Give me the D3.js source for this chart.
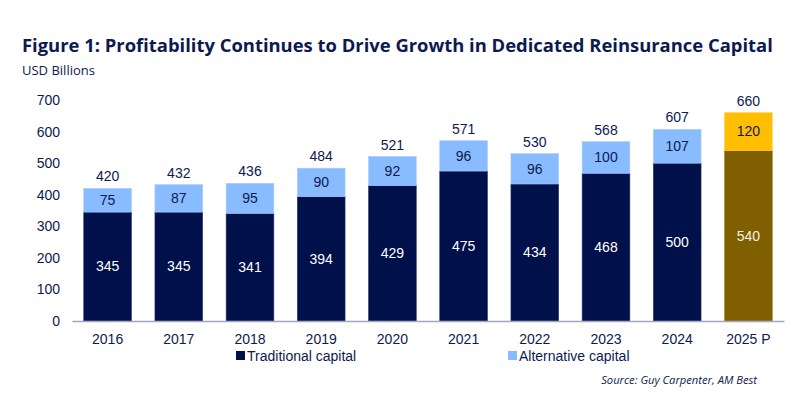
<!DOCTYPE html>
<html><head><meta charset="utf-8">
<script src="https://cdn.jsdelivr.net/npm/d3@7"></script>
<style>body{margin:0;background:#fff}svg{display:block}</style>
</head><body>
<svg id="c" width="800" height="412"></svg>
<script>
const categories = ["2016","2017","2018","2019","2020","2021","2022","2023","2024","2025 P"];
const traditional = [345,345,341,394,429,475,434,468,500,540];
const alternative = [75,87,95,90,92,96,96,100,107,120];
const totals = [420,432,436,484,521,571,530,568,607,660];
const yTicks = [0,100,200,300,400,500,600,700];

const svg = d3.select("#c");
const navy = "#0d1a4f";
const x = d3.scaleBand().domain(categories).range([72,784]).paddingInner(0.33).paddingOuter(0.165);
const y = d3.scaleLinear().domain([0,700]).range([321,100]);

const title = svg.append("text").attr("x",22).attr("y",52).attr("fill",navy)
  .attr("font-family","'Open Sans', 'Noto Sans', sans-serif").attr("font-weight",700).attr("font-size",19)
  .text("Figure 1: Profitability Continues to Drive Growth in Dedicated Reinsurance Capital");
const tw = title.node().getComputedTextLength();
title.attr("font-size", 19*751/tw);
svg.append("text").attr("x",22).attr("y",75).attr("fill",navy)
  .attr("font-family","'Open Sans', 'Noto Sans', sans-serif").attr("font-size",13)
  .text("USD Billions");

const font = "'Liberation Sans', Arial, sans-serif";
const yAxis = svg.append("g").attr("transform","translate(72,0)")
  .call(d3.axisLeft(y).tickValues(yTicks).tickSize(0).tickPadding(12));
yAxis.select(".domain").remove();
yAxis.selectAll("text").attr("font-family",font).attr("font-size",14).attr("fill",navy);

const isProj = i => i === categories.length-1;
const g = svg.append("g");
categories.forEach((c,i)=>{
  const x0 = x(c), w = x.bandwidth();
  const t = traditional[i], a = alternative[i];
  g.append("rect").attr("x",x0).attr("width",w).attr("y",y(t)).attr("height",y(0)-y(t))
    .attr("fill",isProj(i)?"#7f5f00":"#00104a").attr("stroke",isProj(i)?"#9a7c28":"#2a3468").attr("stroke-width",0.6);
  g.append("rect").attr("x",x0).attr("width",w).attr("y",y(t+a)).attr("height",y(t)-y(t+a))
    .attr("fill",isProj(i)?"#ffbf00":"#88bbff").attr("stroke",isProj(i)?"#ffd04a":"#a6ccff").attr("stroke-width",0.6);
  const cx = x0 + w/2;
  g.append("text").attr("x",cx).attr("y",(y(0)+y(t))/2).attr("dy","0.35em").attr("text-anchor","middle")
    .attr("font-family",font).attr("font-size",14).attr("fill",isProj(i)?"#f6efe0":"#ffffff").text(t);
  g.append("text").attr("x",cx).attr("y",(y(t)+y(t+a))/2).attr("dy","0.35em").attr("text-anchor","middle")
    .attr("font-family",font).attr("font-size",14).attr("fill",navy).text(a);
  g.append("text").attr("x",cx).attr("y",y(totals[i])-7).attr("text-anchor","middle")
    .attr("font-family",font).attr("font-size",14).attr("fill",navy).text(totals[i]);
});

const xAxis = svg.append("g").attr("transform","translate(0,321)")
  .call(d3.axisBottom(x).tickSize(0).tickPadding(13));
xAxis.select(".domain").attr("stroke","#a3a6c0").attr("stroke-width",1.5);
xAxis.selectAll("text").attr("font-family",font).attr("font-size",14).attr("fill",navy);

const legend = [["Traditional capital","#00104a",236],["Alternative capital","#88bbff",508]];
legend.forEach(([lab,col,lx])=>{
  svg.append("rect").attr("x",lx).attr("y",351).attr("width",9).attr("height",9).attr("fill",col);
  svg.append("text").attr("x",lx+11).attr("y",360.5).attr("font-family",font).attr("font-size",14)
    .attr("fill",navy).text(lab);
});

const src = svg.append("text").attr("x",757).attr("y",384).attr("text-anchor","end")
  .attr("font-family","'Open Sans', 'Noto Sans', sans-serif").attr("font-style","italic").attr("font-size",11)
  .attr("fill",navy).text("Source: Guy Carpenter, AM Best");
const sw = src.node().getComputedTextLength();
src.attr("font-size", 11*156/sw);
</script>
</body></html>
